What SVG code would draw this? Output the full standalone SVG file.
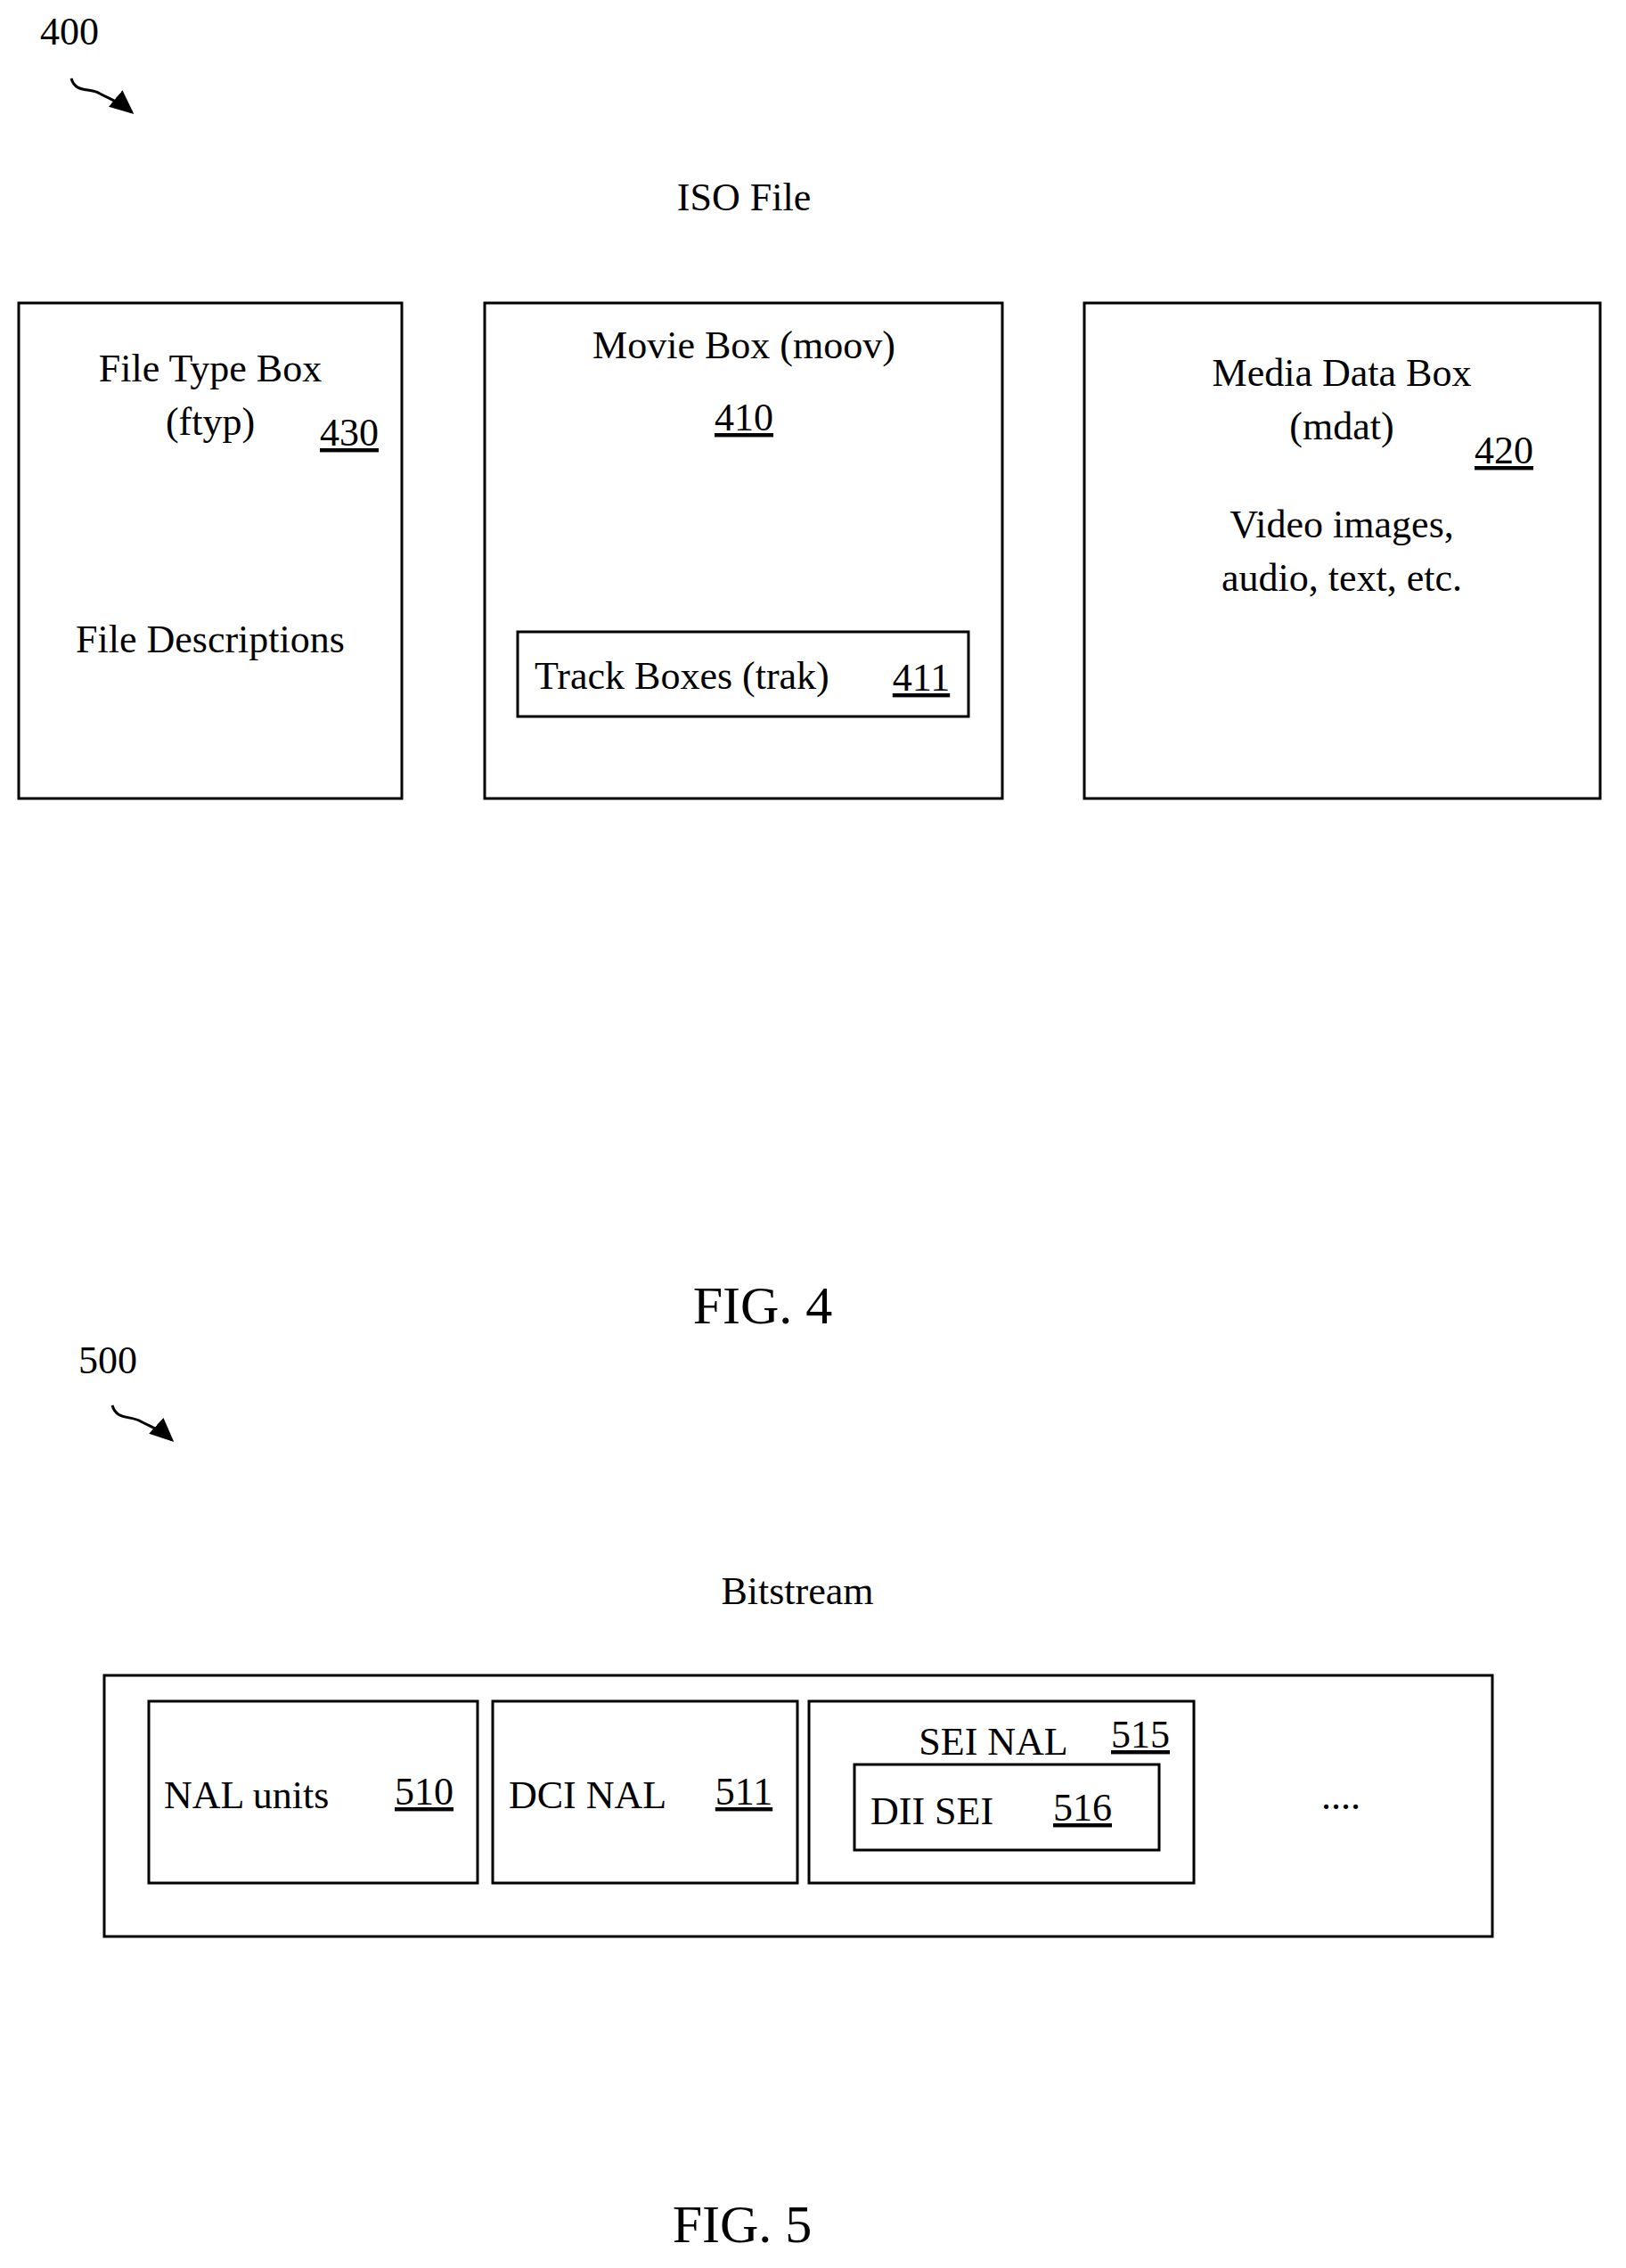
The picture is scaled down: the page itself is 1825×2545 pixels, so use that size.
<svg xmlns="http://www.w3.org/2000/svg" width="1825" height="2545" viewBox="0 0 1825 2545">
<style>
text{font-family:"Liberation Serif","Times New Roman",serif;font-size:44px;fill:#000}
.c{text-anchor:middle}
.u{text-decoration:underline}
.fig{font-size:60px}
rect{fill:none;stroke:#000;stroke-width:3}
.ar{fill:none;stroke:#000;stroke-width:3}
</style>
<defs><marker id="ah" markerWidth="10" markerHeight="10" refX="8" refY="5" orient="auto" markerUnits="strokeWidth"><path d="M0,1 L9,5 L0,9 Z" fill="#000"/></marker></defs>
<text x="78" y="50" class="c">400</text>
<text x="121" y="1541" class="c">500</text>
<g id="connectors">
<path class="ar" marker-end="url(#ah)" d="M80,88 C85,105 100,98 112,105 C125,112 135,115 148,126"/>
<path class="ar" marker-end="url(#ah)" d="M126,1577 C131,1594 146,1588 158,1595 C171,1602 181,1605 193,1616"/>
</g>
<text x="835" y="236" class="c">ISO File</text>
<g id="ftyp"><rect x="21" y="340" width="430" height="556"/>
<text x="236" y="428" class="c">File Type Box</text><text x="236" y="488" class="c">(ftyp)</text>
<text x="392" y="500" class="c u">430</text><text x="236" y="732" class="c">File Descriptions</text></g>
<g id="moov"><rect x="544" y="340" width="581" height="556"/>
<text x="835" y="402" class="c">Movie Box (moov)</text><text x="835" y="483" class="c u">410</text></g>
<g id="trak"><rect x="581" y="709" width="506" height="95"/>
<text x="600" y="773">Track Boxes (trak)</text><text x="1034" y="775" class="c u">411</text></g>
<g id="mdat"><rect x="1217" y="340" width="579" height="556"/>
<text x="1506" y="433" class="c">Media Data Box</text><text x="1506" y="493" class="c">(mdat)</text>
<text x="1688" y="520" class="c u">420</text>
<text x="1506" y="603" class="c">Video images,</text><text x="1506" y="663" class="c">audio, text, etc.</text></g>
<text x="856" y="1485" class="c fig">FIG. 4</text>
<text x="895" y="1800" class="c">Bitstream</text>
<g id="bitstream"><rect x="117" y="1880" width="1558" height="293"/><text x="1505" y="2030" class="c">....</text></g>
<g id="nal"><rect x="167" y="1909" width="369" height="204"/>
<text x="184" y="2029">NAL units</text><text x="476" y="2025" class="c u">510</text></g>
<g id="dci"><rect x="553" y="1909" width="342" height="204"/>
<text x="571" y="2029">DCI NAL</text><text x="835" y="2025" class="c u">511</text></g>
<g id="sei"><rect x="908" y="1909" width="432" height="204"/>
<text x="1115" y="1969" class="c">SEI NAL</text><text x="1280" y="1961" class="c u">515</text></g>
<g id="dii"><rect x="959" y="1980" width="342" height="96"/>
<text x="977" y="2047">DII SEI</text><text x="1215" y="2043" class="c u">516</text></g>
<text x="833" y="2516" class="c fig">FIG. 5</text>
</svg>
